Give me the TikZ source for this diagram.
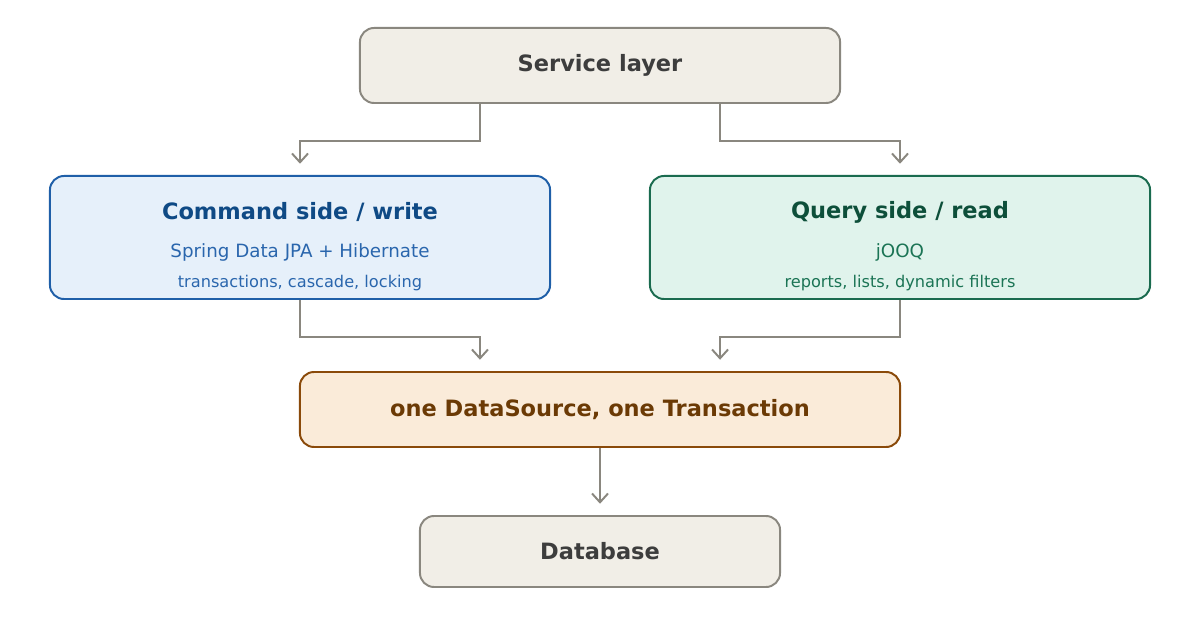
\documentclass[tikz,border=0pt]{standalone}
\usepackage{fontspec}
\setmainfont{DejaVu Sans}
\usetikzlibrary{arrows.meta,positioning,calc}
\definecolor{edgegray}{HTML}{8A877F}
\definecolor{boxgray}{HTML}{F1EEE7}
\definecolor{textgray}{HTML}{3D3D3D}
\definecolor{cmdfill}{HTML}{E6F0FA}
\definecolor{cmdline}{HTML}{1F5FA8}
\definecolor{cmdtitle}{HTML}{0F4A85}
\definecolor{cmdtext}{HTML}{2A66AD}
\definecolor{qryfill}{HTML}{E0F3EC}
\definecolor{qryline}{HTML}{1A6B4F}
\definecolor{qrytitle}{HTML}{0D4F3A}
\definecolor{qrytext}{HTML}{1B7455}
\definecolor{dsfill}{HTML}{FAEBD9}
\definecolor{dsline}{HTML}{8A4A0A}
\definecolor{dstext}{HTML}{6B3A05}
\tikzset{
  box/.style={draw, rounded corners=10pt, line width=1.4pt, inner sep=0pt},
  title/.style={font=\bfseries\fontsize{16}{18}\selectfont},
  sub/.style={font=\fontsize{13}{15}\selectfont},
  small/.style={font=\fontsize{11.5}{13}\selectfont},
  link/.style={draw=edgegray, line width=1.4pt, -{Straight Barb[length=2.2mm,width=4mm,line width=1.4pt]}}
}
\begin{document}
\begin{tikzpicture}[x=0.025cm,y=-0.025cm]
\useasboundingbox (0,0) rectangle (1200,628);
% boxes
\node [box, draw=edgegray, fill=boxgray, minimum width=12cm, minimum height=1.875cm] (svc) at (600,65.5) {};
\node [title, text=textgray] at (svc) {Service layer};
\node [box, draw=cmdline, fill=cmdfill, minimum width=12.5cm, minimum height=3.075cm] (cmd) at (300,237.5) {};
\node [box, draw=qryline, fill=qryfill, minimum width=12.5cm, minimum height=3.075cm] (qry) at (900,237.5) {};
\node [box, draw=dsline, fill=dsfill, minimum width=15cm, minimum height=1.875cm] (ds) at (600,409.5) {};
\node [title, text=dstext] at (ds) {one DataSource, one Transaction};
\node [box, draw=edgegray, fill=boxgray, minimum width=9cm, minimum height=1.775cm] (db) at (600,551.5) {};
\node [title, text=textgray] at (db) {Database};
% texts
\node [title, text=cmdtitle] (cmdt) at (300,212) {Command side / write};
\node [sub, text=cmdtext] (cmds) at (300,252) {Spring Data JPA + Hibernate};
\node [small, text=cmdtext] (cmdn) at (300,283) {transactions, cascade, locking};
\node [title, text=qrytitle] (qryt) at (900,212) {Query side / read};
\node [sub, text=qrytext] (qrys) at (900,252) {jOOQ};
\node [small, text=qrytext] (qryn) at (900,283) {reports, lists, dynamic filters};
% connectors
\draw [link] ([xshift=-3cm]svc.south) -- ++(0,37) -| ([yshift=8]cmd.north);
\draw [link] ([xshift=3cm]svc.south) -- ++(0,37) -| ([yshift=8]qry.north);
\draw [link] (cmd.south) -- ++(0,37) -| ([xshift=-3cm,yshift=8]ds.north);
\draw [link] (qry.south) -- ++(0,37) -| ([xshift=3cm,yshift=8]ds.north);
\draw [link] (ds.south) -- ([yshift=8]db.north);
\end{tikzpicture}
\end{document}
